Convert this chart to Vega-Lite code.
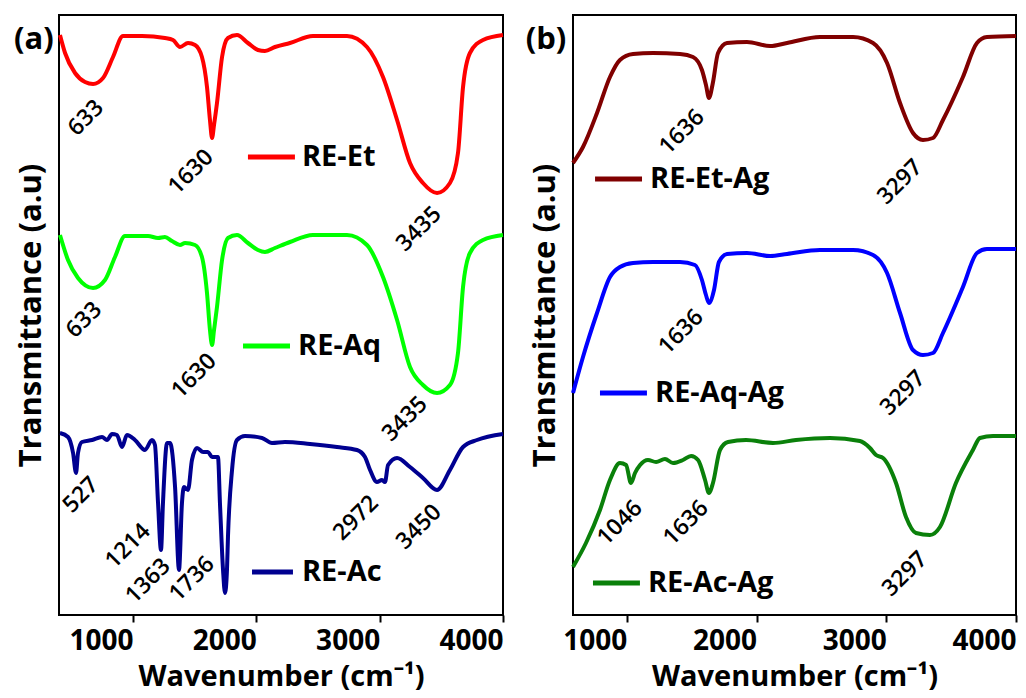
{
  "$schema": "https://vega.github.io/schema/vega-lite/v6.json",
  "padding": {"left": 13, "top": 14, "right": 5, "bottom": 0},
  "bounds": "flush",
  "spacing": 70,
  "background": "white",
  "config": {
    "view": {"stroke": "black", "strokeWidth": 2},
    "font": "Open Sans",
    "axis": {"grid": false, "domain": false, "titleColor": "black", "labelColor": "black", "titleFont": "Open Sans", "labelFont": "Open Sans", "titleFontWeight": "bold", "labelFontWeight": "bold"},
    "axisX": {"tickSize": 7, "tickWidth": 2, "tickColor": "black", "labelFontSize": 28, "labelAlign": "right", "labelDx": 3, "labelPadding": 5, "titleFontSize": 29, "titlePadding": 7},
    "axisY": {"ticks": false, "labels": false, "titleFontSize": 31, "titlePadding": 12}
  },
  "datasets": {
    "a_spec": [
      {"s":"RE-Et","x":408,"y":580},{"s":"RE-Et","x":449,"y":562},{"s":"RE-Et","x":530,"y":542},{"s":"RE-Et","x":611,"y":533},{"s":"RE-Et","x":676,"y":531},{"s":"RE-Et","x":757,"y":537},{"s":"RE-Et","x":838,"y":558},{"s":"RE-Et","x":919,"y":579},{"s":"RE-Et","x":1073,"y":579},{"s":"RE-Et","x":1259,"y":577},{"s":"RE-Et","x":1324,"y":575},{"s":"RE-Et","x":1381,"y":568},{"s":"RE-Et","x":1446,"y":572},{"s":"RE-Et","x":1503,"y":570},{"s":"RE-Et","x":1559,"y":558},{"s":"RE-Et","x":1600,"y":528},{"s":"RE-Et","x":1624,"y":495},{"s":"RE-Et","x":1641,"y":477},{"s":"RE-Et","x":1657,"y":490},{"s":"RE-Et","x":1681,"y":512},{"s":"RE-Et","x":1722,"y":558},{"s":"RE-Et","x":1770,"y":577},{"s":"RE-Et","x":1843,"y":580},{"s":"RE-Et","x":1932,"y":572},{"s":"RE-Et","x":2013,"y":565},{"s":"RE-Et","x":2070,"y":564},{"s":"RE-Et","x":2151,"y":568},{"s":"RE-Et","x":2273,"y":572},{"s":"RE-Et","x":2459,"y":579},{"s":"RE-Et","x":2735,"y":579},{"s":"RE-Et","x":2897,"y":568},{"s":"RE-Et","x":3027,"y":538},{"s":"RE-Et","x":3141,"y":495},{"s":"RE-Et","x":3246,"y":452},{"s":"RE-Et","x":3351,"y":432},{"s":"RE-Et","x":3465,"y":422},{"s":"RE-Et","x":3570,"y":432},{"s":"RE-Et","x":3635,"y":462},{"s":"RE-Et","x":3676,"y":528},{"s":"RE-Et","x":3732,"y":562},{"s":"RE-Et","x":3838,"y":575},{"s":"RE-Et","x":4000,"y":580},
      {"s":"RE-Aq","x":408,"y":380},{"s":"RE-Aq","x":473,"y":355},{"s":"RE-Aq","x":554,"y":337},{"s":"RE-Aq","x":676,"y":327},{"s":"RE-Aq","x":773,"y":335},{"s":"RE-Aq","x":854,"y":358},{"s":"RE-Aq","x":935,"y":379},{"s":"RE-Aq","x":1122,"y":379},{"s":"RE-Aq","x":1203,"y":377},{"s":"RE-Aq","x":1259,"y":378},{"s":"RE-Aq","x":1316,"y":374},{"s":"RE-Aq","x":1381,"y":370},{"s":"RE-Aq","x":1422,"y":372},{"s":"RE-Aq","x":1503,"y":370},{"s":"RE-Aq","x":1559,"y":358},{"s":"RE-Aq","x":1600,"y":322},{"s":"RE-Aq","x":1624,"y":285},{"s":"RE-Aq","x":1641,"y":270},{"s":"RE-Aq","x":1657,"y":285},{"s":"RE-Aq","x":1681,"y":308},{"s":"RE-Aq","x":1722,"y":355},{"s":"RE-Aq","x":1770,"y":377},{"s":"RE-Aq","x":1843,"y":380},{"s":"RE-Aq","x":1932,"y":372},{"s":"RE-Aq","x":2013,"y":365},{"s":"RE-Aq","x":2070,"y":363},{"s":"RE-Aq","x":2151,"y":367},{"s":"RE-Aq","x":2273,"y":373},{"s":"RE-Aq","x":2459,"y":380},{"s":"RE-Aq","x":2735,"y":380},{"s":"RE-Aq","x":2897,"y":370},{"s":"RE-Aq","x":3027,"y":338},{"s":"RE-Aq","x":3141,"y":295},{"s":"RE-Aq","x":3246,"y":248},{"s":"RE-Aq","x":3351,"y":230},{"s":"RE-Aq","x":3465,"y":222},{"s":"RE-Aq","x":3570,"y":230},{"s":"RE-Aq","x":3635,"y":262},{"s":"RE-Aq","x":3676,"y":328},{"s":"RE-Aq","x":3732,"y":362},{"s":"RE-Aq","x":3838,"y":375},{"s":"RE-Aq","x":4000,"y":380},
      {"s":"RE-Ac","x":408,"y":182},{"s":"RE-Ac","x":473,"y":178},{"s":"RE-Ac","x":514,"y":162},{"s":"RE-Ac","x":538,"y":142},{"s":"RE-Ac","x":554,"y":162},{"s":"RE-Ac","x":586,"y":173},{"s":"RE-Ac","x":668,"y":175},{"s":"RE-Ac","x":749,"y":178},{"s":"RE-Ac","x":789,"y":175},{"s":"RE-Ac","x":830,"y":181},{"s":"RE-Ac","x":870,"y":180},{"s":"RE-Ac","x":911,"y":168},{"s":"RE-Ac","x":951,"y":180},{"s":"RE-Ac","x":1016,"y":175},{"s":"RE-Ac","x":1097,"y":165},{"s":"RE-Ac","x":1154,"y":175},{"s":"RE-Ac","x":1178,"y":170},{"s":"RE-Ac","x":1203,"y":112},{"s":"RE-Ac","x":1227,"y":65},{"s":"RE-Ac","x":1243,"y":112},{"s":"RE-Ac","x":1276,"y":172},{"s":"RE-Ac","x":1300,"y":172},{"s":"RE-Ac","x":1341,"y":128},{"s":"RE-Ac","x":1373,"y":45},{"s":"RE-Ac","x":1397,"y":112},{"s":"RE-Ac","x":1413,"y":128},{"s":"RE-Ac","x":1446,"y":125},{"s":"RE-Ac","x":1478,"y":155},{"s":"RE-Ac","x":1519,"y":167},{"s":"RE-Ac","x":1568,"y":163},{"s":"RE-Ac","x":1608,"y":163},{"s":"RE-Ac","x":1641,"y":158},{"s":"RE-Ac","x":1689,"y":158},{"s":"RE-Ac","x":1705,"y":112},{"s":"RE-Ac","x":1730,"y":45},{"s":"RE-Ac","x":1746,"y":22},{"s":"RE-Ac","x":1762,"y":45},{"s":"RE-Ac","x":1770,"y":78},{"s":"RE-Ac","x":1803,"y":145},{"s":"RE-Ac","x":1843,"y":175},{"s":"RE-Ac","x":1908,"y":179},{"s":"RE-Ac","x":2046,"y":177},{"s":"RE-Ac","x":2127,"y":172},{"s":"RE-Ac","x":2232,"y":173},{"s":"RE-Ac","x":2435,"y":171},{"s":"RE-Ac","x":2654,"y":168},{"s":"RE-Ac","x":2816,"y":165},{"s":"RE-Ac","x":2881,"y":158},{"s":"RE-Ac","x":2922,"y":145},{"s":"RE-Ac","x":2978,"y":133},{"s":"RE-Ac","x":3019,"y":135},{"s":"RE-Ac","x":3043,"y":133},{"s":"RE-Ac","x":3068,"y":150},{"s":"RE-Ac","x":3141,"y":157},{"s":"RE-Ac","x":3246,"y":148},{"s":"RE-Ac","x":3351,"y":137},{"s":"RE-Ac","x":3465,"y":125},{"s":"RE-Ac","x":3570,"y":145},{"s":"RE-Ac","x":3676,"y":168},{"s":"RE-Ac","x":3789,"y":175},{"s":"RE-Ac","x":4000,"y":181}
    ],
    "b_spec": [
      {"s":"RE-Et-Ag","x":585,"y":452},{"s":"RE-Et-Ag","x":662,"y":468},{"s":"RE-Et-Ag","x":770,"y":502},{"s":"RE-Et-Ag","x":870,"y":538},{"s":"RE-Et-Ag","x":947,"y":555},{"s":"RE-Et-Ag","x":1048,"y":561},{"s":"RE-Et-Ag","x":1202,"y":562},{"s":"RE-Et-Ag","x":1410,"y":561},{"s":"RE-Et-Ag","x":1510,"y":558},{"s":"RE-Et-Ag","x":1579,"y":545},{"s":"RE-Et-Ag","x":1610,"y":530},{"s":"RE-Et-Ag","x":1633,"y":517},{"s":"RE-Et-Ag","x":1663,"y":532},{"s":"RE-Et-Ag","x":1703,"y":562},{"s":"RE-Et-Ag","x":1772,"y":572},{"s":"RE-Et-Ag","x":1926,"y":573},{"s":"RE-Et-Ag","x":2104,"y":569},{"s":"RE-Et-Ag","x":2235,"y":572},{"s":"RE-Et-Ag","x":2489,"y":578},{"s":"RE-Et-Ag","x":2744,"y":578},{"s":"RE-Et-Ag","x":2898,"y":572},{"s":"RE-Et-Ag","x":3006,"y":552},{"s":"RE-Et-Ag","x":3106,"y":512},{"s":"RE-Et-Ag","x":3206,"y":482},{"s":"RE-Et-Ag","x":3283,"y":475},{"s":"RE-Et-Ag","x":3360,"y":477},{"s":"RE-Et-Ag","x":3437,"y":495},{"s":"RE-Et-Ag","x":3591,"y":538},{"s":"RE-Et-Ag","x":3699,"y":572},{"s":"RE-Et-Ag","x":3776,"y":578},{"s":"RE-Et-Ag","x":4000,"y":579},
      {"s":"RE-Aq-Ag","x":585,"y":222},{"s":"RE-Aq-Ag","x":662,"y":258},{"s":"RE-Aq-Ag","x":770,"y":302},{"s":"RE-Aq-Ag","x":870,"y":338},{"s":"RE-Aq-Ag","x":947,"y":348},{"s":"RE-Aq-Ag","x":1048,"y":352},{"s":"RE-Aq-Ag","x":1202,"y":353},{"s":"RE-Aq-Ag","x":1410,"y":353},{"s":"RE-Aq-Ag","x":1525,"y":350},{"s":"RE-Aq-Ag","x":1579,"y":335},{"s":"RE-Aq-Ag","x":1610,"y":320},{"s":"RE-Aq-Ag","x":1633,"y":312},{"s":"RE-Aq-Ag","x":1672,"y":325},{"s":"RE-Aq-Ag","x":1710,"y":353},{"s":"RE-Aq-Ag","x":1772,"y":361},{"s":"RE-Aq-Ag","x":1926,"y":362},{"s":"RE-Aq-Ag","x":2104,"y":359},{"s":"RE-Aq-Ag","x":2235,"y":361},{"s":"RE-Aq-Ag","x":2489,"y":365},{"s":"RE-Aq-Ag","x":2744,"y":365},{"s":"RE-Aq-Ag","x":2898,"y":360},{"s":"RE-Aq-Ag","x":3006,"y":342},{"s":"RE-Aq-Ag","x":3106,"y":302},{"s":"RE-Aq-Ag","x":3206,"y":265},{"s":"RE-Aq-Ag","x":3283,"y":260},{"s":"RE-Aq-Ag","x":3360,"y":262},{"s":"RE-Aq-Ag","x":3437,"y":282},{"s":"RE-Aq-Ag","x":3591,"y":328},{"s":"RE-Aq-Ag","x":3699,"y":362},{"s":"RE-Aq-Ag","x":3776,"y":366},{"s":"RE-Aq-Ag","x":4000,"y":366},
      {"s":"RE-Ac-Ag","x":585,"y":48},{"s":"RE-Ac-Ag","x":685,"y":72},{"s":"RE-Ac-Ag","x":793,"y":105},{"s":"RE-Ac-Ag","x":870,"y":135},{"s":"RE-Ac-Ag","x":947,"y":152},{"s":"RE-Ac-Ag","x":994,"y":150},{"s":"RE-Ac-Ag","x":1032,"y":132},{"s":"RE-Ac-Ag","x":1063,"y":142},{"s":"RE-Ac-Ag","x":1102,"y":150},{"s":"RE-Ac-Ag","x":1163,"y":155},{"s":"RE-Ac-Ag","x":1225,"y":153},{"s":"RE-Ac-Ag","x":1294,"y":156},{"s":"RE-Ac-Ag","x":1356,"y":152},{"s":"RE-Ac-Ag","x":1433,"y":155},{"s":"RE-Ac-Ag","x":1495,"y":159},{"s":"RE-Ac-Ag","x":1549,"y":155},{"s":"RE-Ac-Ag","x":1603,"y":135},{"s":"RE-Ac-Ag","x":1633,"y":122},{"s":"RE-Ac-Ag","x":1664,"y":132},{"s":"RE-Ac-Ag","x":1718,"y":165},{"s":"RE-Ac-Ag","x":1780,"y":173},{"s":"RE-Ac-Ag","x":1919,"y":175},{"s":"RE-Ac-Ag","x":2127,"y":172},{"s":"RE-Ac-Ag","x":2304,"y":175},{"s":"RE-Ac-Ag","x":2566,"y":177},{"s":"RE-Ac-Ag","x":2797,"y":174},{"s":"RE-Ac-Ag","x":2874,"y":167},{"s":"RE-Ac-Ag","x":2921,"y":160},{"s":"RE-Ac-Ag","x":2975,"y":157},{"s":"RE-Ac-Ag","x":3075,"y":132},{"s":"RE-Ac-Ag","x":3152,"y":98},{"s":"RE-Ac-Ag","x":3229,"y":82},{"s":"RE-Ac-Ag","x":3337,"y":80},{"s":"RE-Ac-Ag","x":3414,"y":88},{"s":"RE-Ac-Ag","x":3537,"y":132},{"s":"RE-Ac-Ag","x":3668,"y":165},{"s":"RE-Ac-Ag","x":3722,"y":177},{"s":"RE-Ac-Ag","x":3823,"y":179},{"s":"RE-Ac-Ag","x":4000,"y":179}
    ],
    "a_leg": [
      {"s":"RE-Et","x":1932,"x2":2313,"tx":2370,"y":458},
      {"s":"RE-Aq","x":1892,"x2":2273,"tx":2338,"y":269},
      {"s":"RE-Ac","x":1965,"x2":2297,"tx":2370,"y":43}
    ],
    "b_leg": [
      {"s":"RE-Et-Ag","x":755,"x2":1117,"tx":1179,"y":436},
      {"s":"RE-Aq-Ag","x":793,"x2":1155,"tx":1217,"y":222},
      {"s":"RE-Ac-Ag","x":739,"x2":1101,"tx":1163,"y":32}
    ],
    "a_peaks": [
      {"t":"633","x":619,"y":497},{"t":"1630","x":1470,"y":443},{"t":"3435","x":3319,"y":386},
      {"t":"633","x":603,"y":295},{"t":"1630","x":1495,"y":239},{"t":"3435","x":3205,"y":196},
      {"t":"527","x":578,"y":120},{"t":"1214","x":959,"y":69},{"t":"1363","x":1122,"y":34},{"t":"1736","x":1478,"y":36},{"t":"2972","x":2808,"y":97},{"t":"3450","x":3319,"y":88}
    ],
    "b_peaks": [
      {"t":"1636","x":1425,"y":483},{"t":"3297","x":3106,"y":433},
      {"t":"1636","x":1418,"y":283},{"t":"3297","x":3129,"y":222},
      {"t":"1046","x":947,"y":92},{"t":"1636","x":1456,"y":92},{"t":"3297","x":3144,"y":41}
    ],
    "a_tag": [{"t":"(a)","x":197,"y":575}],
    "b_tag": [{"t":"(b)","x":377,"y":575}]
  },
  "resolve": {"scale": {"color": "independent"}},
  "hconcat": [
    {
      "width": 444,
      "height": 600,
      "encoding": {
        "x": {"field": "x", "type": "quantitative", "scale": {"domain": [400, 4000], "nice": false, "zero": false}, "axis": {"title": "Wavenumber (cm⁻¹)", "values": [1000, 2000, 3000, 4000], "format": "d"}},
        "y": {"field": "y", "type": "quantitative", "scale": {"domain": [0, 600], "nice": false}, "axis": {"title": "Transmittance (a.u)"}}
      },
      "layer": [
        {
          "data": {"name": "a_spec"},
          "mark": {"type": "line", "strokeWidth": 4, "interpolate": "monotone"},
          "encoding": {
            "color": {"field": "s", "type": "nominal", "scale": {"domain": ["RE-Et", "RE-Aq", "RE-Ac"], "range": ["#ff0000", "#00ff00", "#000090"]}, "legend": null},
            "detail": {"field": "s"}
          }
        },
        {
          "data": {"name": "a_leg"},
          "mark": {"type": "rule", "strokeWidth": 5},
          "encoding": {
            "x2": {"field": "x2"},
            "color": {"field": "s", "type": "nominal", "scale": {"domain": ["RE-Et", "RE-Aq", "RE-Ac"], "range": ["#ff0000", "#00ff00", "#000090"]}, "legend": null}
          }
        },
        {
          "data": {"name": "a_leg"},
          "mark": {"type": "text", "align": "left", "baseline": "middle", "fontSize": 29, "fontWeight": "bold", "font": "Open Sans", "color": "black"},
          "encoding": {"x": {"field": "tx", "type": "quantitative"}, "text": {"field": "s"}}
        },
        {
          "data": {"name": "a_peaks"},
          "mark": {"type": "text", "align": "center", "baseline": "middle", "angle": 315, "fontSize": 23, "fontWeight": 600, "font": "Open Sans", "color": "black"},
          "encoding": {"text": {"field": "t"}}
        },
        {
          "data": {"name": "a_tag"},
          "mark": {"type": "text", "align": "center", "baseline": "middle", "fontSize": 31, "fontWeight": "bold", "font": "Open Sans", "color": "black"},
          "encoding": {"text": {"field": "t"}}
        }
      ]
    },
    {
      "width": 443,
      "height": 600,
      "encoding": {
        "x": {"field": "x", "type": "quantitative", "scale": {"domain": [585, 4000], "nice": false, "zero": false}, "axis": {"title": "Wavenumber (cm⁻¹)", "values": [1000, 2000, 3000, 4000], "format": "d"}},
        "y": {"field": "y", "type": "quantitative", "scale": {"domain": [0, 600], "nice": false}, "axis": {"title": "Transmittance (a.u)"}}
      },
      "layer": [
        {
          "data": {"name": "b_spec"},
          "mark": {"type": "line", "strokeWidth": 4, "interpolate": "monotone"},
          "encoding": {
            "color": {"field": "s", "type": "nominal", "scale": {"domain": ["RE-Et-Ag", "RE-Aq-Ag", "RE-Ac-Ag"], "range": ["#800000", "#0000ff", "#0a800a"]}, "legend": null},
            "detail": {"field": "s"}
          }
        },
        {
          "data": {"name": "b_leg"},
          "mark": {"type": "rule", "strokeWidth": 5},
          "encoding": {
            "x2": {"field": "x2"},
            "color": {"field": "s", "type": "nominal", "scale": {"domain": ["RE-Et-Ag", "RE-Aq-Ag", "RE-Ac-Ag"], "range": ["#800000", "#0000ff", "#0a800a"]}, "legend": null}
          }
        },
        {
          "data": {"name": "b_leg"},
          "mark": {"type": "text", "align": "left", "baseline": "middle", "fontSize": 29, "fontWeight": "bold", "font": "Open Sans", "color": "black"},
          "encoding": {"x": {"field": "tx", "type": "quantitative"}, "text": {"field": "s"}}
        },
        {
          "data": {"name": "b_peaks"},
          "mark": {"type": "text", "align": "center", "baseline": "middle", "angle": 315, "fontSize": 23, "fontWeight": 600, "font": "Open Sans", "color": "black"},
          "encoding": {"text": {"field": "t"}}
        },
        {
          "data": {"name": "b_tag"},
          "mark": {"type": "text", "align": "center", "baseline": "middle", "fontSize": 31, "fontWeight": "bold", "font": "Open Sans", "color": "black"},
          "encoding": {"text": {"field": "t"}}
        }
      ]
    }
  ]
}
